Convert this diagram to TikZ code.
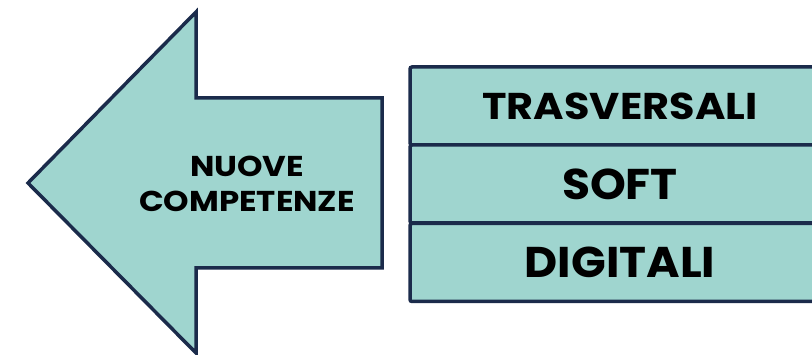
\documentclass[tikz,border=0pt]{standalone}
\usepackage{fontspec}
\setmainfont{Poppins}
\definecolor{tealfill}{HTML}{9FD5CF}
\definecolor{navy}{HTML}{1B2B4B}
\newcommand{\wtxt}[2]{\scalebox{#1}[1]{#2}}
\tikzset{
  shapeline/.style={draw=navy, fill=tealfill, line width=3.5pt, line join=miter},
  cat/.style={shapeline, rectangle, rounded corners=2pt, minimum width=420pt, minimum height=78pt, inner sep=0pt, text=black},
  lbl/.style={font=\bfseries\fontsize{28.7}{35}\selectfont, text=black, align=center}
}
\begin{document}
\begin{tikzpicture}[x=1pt,y=-1pt]
\useasboundingbox (0,0) rectangle (812,355);
\clip (0,0) rectangle (812,355);
\draw[shapeline] (28,183) -- (196,12) -- (196,98) -- (382,98) -- (382,268) -- (196,268) -- (196,353) -- cycle;
\node[lbl] (nuove) at (247,183.5) {\wtxt{1.13}{NUOVE}\\\wtxt{1.13}{COMPETENZE}};
\node[cat, font=\bfseries\fontsize{37.3}{40}\selectfont] (tras) at (620,106) {\wtxt{1.11}{TRASVERSALI}};
\node[cat, font=\bfseries\fontsize{43}{46}\selectfont] (soft) at (620,184) {\wtxt{1.06}{SOFT}};
\node[cat, font=\bfseries\fontsize{43}{46}\selectfont] (dig) at (620,262.5) {\wtxt{1.06}{DIGITALI}};
\end{tikzpicture}
\end{document}
